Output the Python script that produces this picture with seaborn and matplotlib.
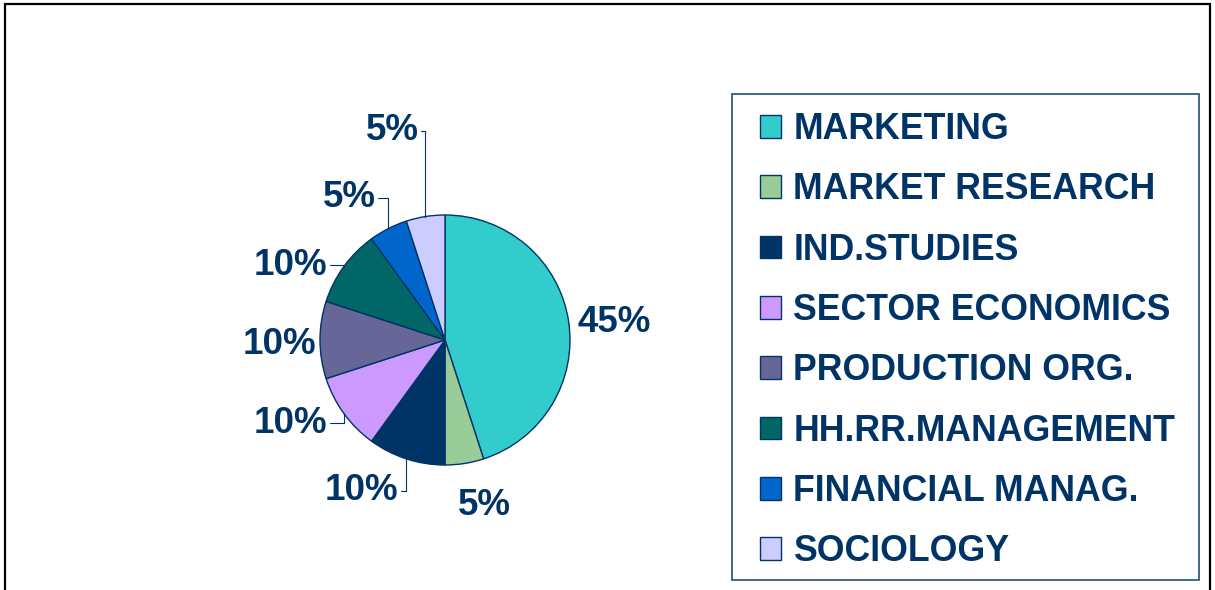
import matplotlib.pyplot as plt
import matplotlib.patches as mpatches
import numpy as np
import seaborn as sns

# data
categories = ['MARKETING', 'MARKET RESEARCH', 'IND.STUDIES', 'SECTOR ECONOMICS',
              'PRODUCTION ORG.', 'HH.RR.MANAGEMENT', 'FINANCIAL MANAG.', 'SOCIOLOGY']
shares = [45, 5, 10, 10, 10, 10, 5, 5]
colors = ['#33CCCC', '#99CC99', '#003366', '#CC99FF',
          '#666699', '#006666', '#0066CC', '#CCCCFF']

# label layout relative to the wedge edge point: (dx, dy, ha, leader)
label_layout = [
    (0.07, -0.015, 'left', False),
    (0.16, -0.335, 'center', False),
    (-0.065, -0.255, 'right', True),
    (-0.13, -0.08, 'right', True),
    (-0.03, -0.035, 'right', False),
    (-0.13, 0.01, 'right', True),
    (-0.10, 0.245, 'right', True),
    (-0.055, 0.685, 'right', True),
]

sns.set_theme(style='white')
plt.rcParams['font.family'] = ['Liberation Sans', 'DejaVu Sans']
navy = '#003366'

fig = plt.figure(figsize=(12.15, 5.9), dpi=100)
ax = fig.add_axes([195 / 1215, 0, 500 / 1215, 500 / 590])

wedges, _ = ax.pie(shares, colors=colors, startangle=90, counterclock=False,
                   radius=1, wedgeprops=dict(edgecolor=navy, linewidth=1.0))
ax.set_xlim(-2, 2)
ax.set_ylim(-2, 2)
ax.set_aspect('equal')
ax.axis('off')

total = sum(shares)
for w, val, (dx, dy, ha, leader) in zip(wedges, shares, label_layout):
    mid = np.deg2rad((w.theta1 + w.theta2) / 2)
    ex, ey = np.cos(mid), np.sin(mid)
    tx, ty = ex + dx, ey + dy
    if leader:
        ax.plot([ex, ex, tx + 0.02], [ey, ty, ty], color=navy, lw=0.8)
    ax.text(tx, ty, f'{round(val / total * 100)}%', ha=ha, va='center',
            fontsize=26.5, fontweight='bold', color=navy)

# legend
handles = [mpatches.Patch(facecolor=c, edgecolor=navy, linewidth=1.0) for c in colors]
leg = fig.legend(handles, categories, loc='upper left',
                 bbox_to_anchor=(760 / 1215, 1 - 112 / 590), frameon=False,
                 borderaxespad=0, borderpad=0, fontsize=25.7,
                 handlelength=0.6, handleheight=0.6, handletextpad=0.33,
                 labelspacing=0.71)
for t in leg.get_texts():
    t.set_color(navy)
    t.set_fontweight('bold')

fig.patches.append(mpatches.Rectangle((732 / 1215, 10 / 590), 467 / 1215, 486 / 590,
                                      transform=fig.transFigure, fill=False,
                                      edgecolor='#1F4E79', linewidth=1.2))
# outer frame
fig.patches.append(mpatches.Rectangle((5 / 1215, -0.05), 1205 / 1215, 1.05 - 4 / 590,
                                      transform=fig.transFigure, fill=False,
                                      edgecolor='black', linewidth=1.6))

fig.savefig('out.png', dpi=100)
